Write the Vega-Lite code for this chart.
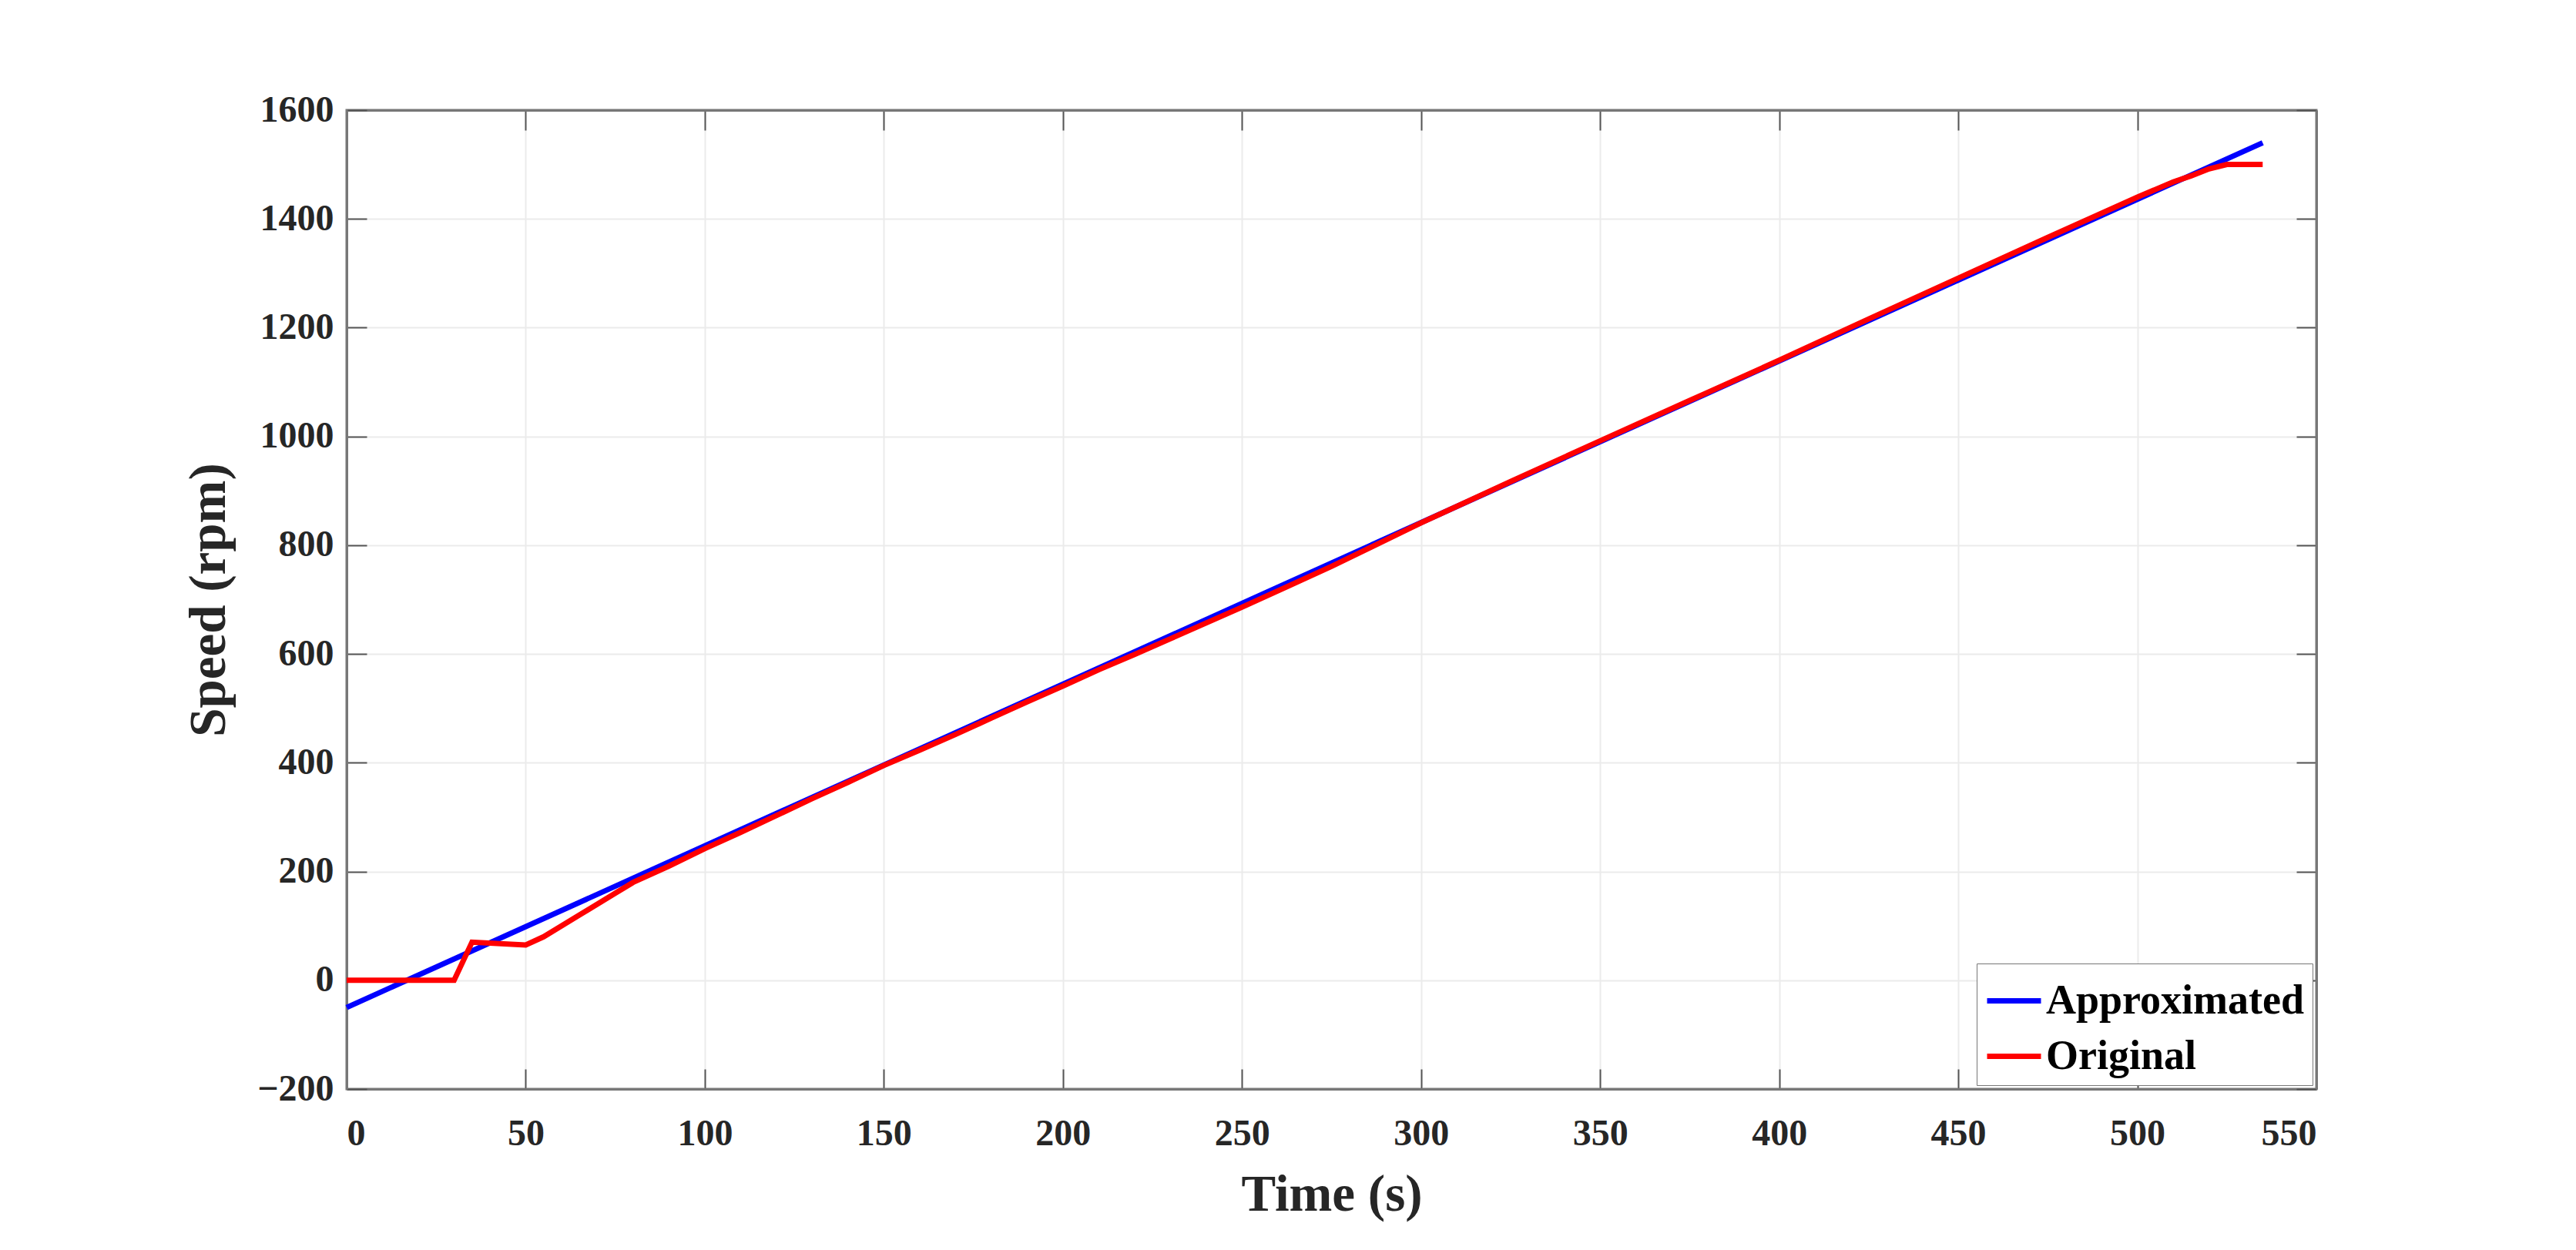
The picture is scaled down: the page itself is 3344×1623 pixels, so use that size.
{
  "$schema": "https://vega.github.io/schema/vega-lite/v6.json",
  "autosize": "none",
  "width": 2557,
  "height": 1271,
  "padding": {"left": 450, "top": 143, "right": 337, "bottom": 209},
  "background": "white",
  "config": {
    "view": {"stroke": "#777777", "strokeWidth": 3},
    "font": "Liberation Serif",
    "axis": {
      "labelFont": "Liberation Serif",
      "labelFontWeight": "bold",
      "labelFontSize": 48,
      "labelColor": "#262626",
      "titleFont": "Liberation Serif",
      "titleFontWeight": "bold",
      "titleFontSize": 67,
      "titleColor": "#262626",
      "domainColor": "#777777",
      "domainWidth": 3,
      "tickColor": "#555555",
      "tickWidth": 2,
      "tickSize": -26,
      "gridColor": "#ebebeb",
      "gridWidth": 2,
      "format": "d"
    }
  },
  "data": {
    "values": [
      {"t": 0, "speed": -50, "series": "Approximated"},
      {"t": 535, "speed": 1540, "series": "Approximated"},
      {"t": 0, "speed": 0, "series": "Original"},
      {"t": 30, "speed": 0, "series": "Original"},
      {"t": 35, "speed": 70, "series": "Original"},
      {"t": 50, "speed": 65, "series": "Original"},
      {"t": 55, "speed": 80, "series": "Original"},
      {"t": 65, "speed": 120, "series": "Original"},
      {"t": 75, "speed": 160, "series": "Original"},
      {"t": 80, "speed": 180, "series": "Original"},
      {"t": 90, "speed": 210, "series": "Original"},
      {"t": 100, "speed": 242, "series": "Original"},
      {"t": 110, "speed": 272, "series": "Original"},
      {"t": 120, "speed": 303, "series": "Original"},
      {"t": 130, "speed": 334, "series": "Original"},
      {"t": 140, "speed": 364, "series": "Original"},
      {"t": 150, "speed": 395, "series": "Original"},
      {"t": 160, "speed": 423, "series": "Original"},
      {"t": 170, "speed": 452, "series": "Original"},
      {"t": 180, "speed": 482, "series": "Original"},
      {"t": 190, "speed": 512, "series": "Original"},
      {"t": 200, "speed": 541, "series": "Original"},
      {"t": 210, "speed": 571, "series": "Original"},
      {"t": 220, "speed": 599, "series": "Original"},
      {"t": 230, "speed": 628, "series": "Original"},
      {"t": 250, "speed": 686, "series": "Original"},
      {"t": 275, "speed": 761, "series": "Original"},
      {"t": 300, "speed": 841, "series": "Original"},
      {"t": 325, "speed": 917, "series": "Original"},
      {"t": 350, "speed": 992, "series": "Original"},
      {"t": 375, "speed": 1066, "series": "Original"},
      {"t": 400, "speed": 1140, "series": "Original"},
      {"t": 425, "speed": 1216, "series": "Original"},
      {"t": 450, "speed": 1291, "series": "Original"},
      {"t": 475, "speed": 1366, "series": "Original"},
      {"t": 500, "speed": 1440, "series": "Original"},
      {"t": 510, "speed": 1468, "series": "Original"},
      {"t": 515, "speed": 1479, "series": "Original"},
      {"t": 520, "speed": 1492, "series": "Original"},
      {"t": 525, "speed": 1500, "series": "Original"},
      {"t": 535, "speed": 1500, "series": "Original"}
    ]
  },
  "layer": [
    {
      "mark": {"type": "line", "strokeWidth": 7},
      "encoding": {
        "x": {
          "field": "t", "type": "quantitative",
          "scale": {"domain": [0, 550], "nice": false, "zero": false},
          "axis": {"title": "Time (s)", "values": [0,50,100,150,200,250,300,350,400,450,500,550], "labelPadding": 60, "titlePadding": 22}
        },
        "y": {
          "field": "speed", "type": "quantitative",
          "scale": {"domain": [-200, 1600], "nice": false, "zero": false},
          "axis": {"title": "Speed (rpm)", "values": [-200,0,200,400,600,800,1000,1200,1400,1600], "labelPadding": 43, "titlePadding": 28}
        },
        "color": {
          "field": "series", "type": "nominal",
          "scale": {"domain": ["Approximated", "Original"], "range": ["#0000ff", "#ff0000"]},
          "legend": {
            "title": null,
            "orient": "bottom-right",
            "offset": 5,
            "symbolType": "stroke",
            "symbolSize": 4900,
            "symbolStrokeWidth": 7,
            "labelFont": "Liberation Serif",
            "labelFontWeight": "bold",
            "labelFontSize": 54,
            "labelLimit": 1000,
            "labelColor": "#000000",
            "labelOffset": 3,
            "fillColor": "white",
            "strokeColor": "#777777",
            "padding": 10,
            "rowPadding": 6
          }
        }
      }
    },
    {
      "mark": {"type": "line", "strokeWidth": 6, "opacity": 0},
      "encoding": {
        "x": {
          "field": "t", "type": "quantitative",
          "scale": {"domain": [0, 550], "nice": false, "zero": false},
          "axis": {"orient": "top", "title": null, "labels": false, "grid": false, "values": [0,50,100,150,200,250,300,350,400,450,500,550]}
        },
        "y": {
          "field": "speed", "type": "quantitative",
          "scale": {"domain": [-200, 1600], "nice": false, "zero": false},
          "axis": {"orient": "right", "title": null, "labels": false, "grid": false, "values": [-200,0,200,400,600,800,1000,1200,1400,1600]}
        },
        "detail": {"field": "series"}
      }
    }
  ],
  "resolve": {"axis": {"x": "independent", "y": "independent"}}
}
